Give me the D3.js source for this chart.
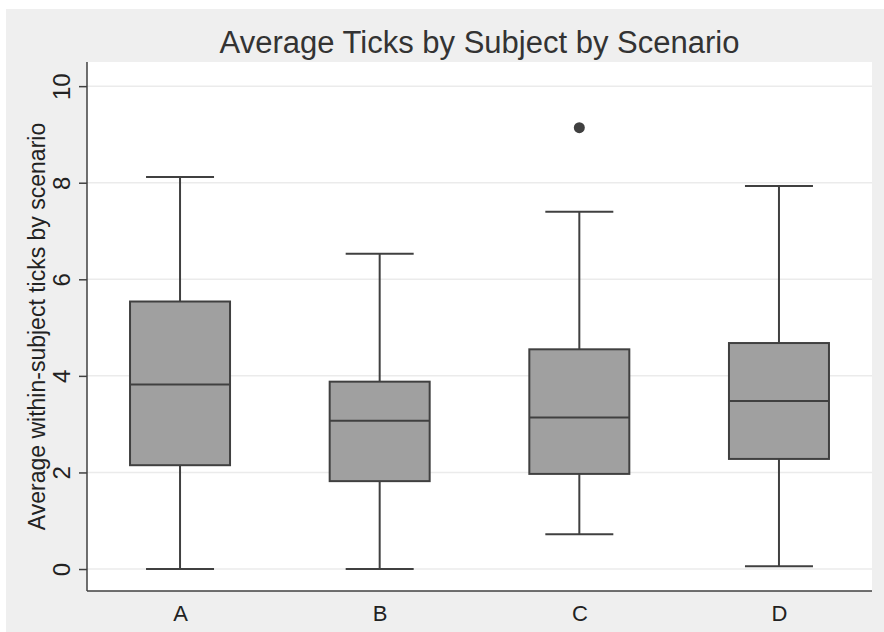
<!DOCTYPE html>
<html><head><meta charset="utf-8">
<script src="https://cdn.jsdelivr.net/npm/d3@7"></script>
<style>body{margin:0;background:#fff;font-family:Arial,"Liberation Sans",sans-serif;}</style>
</head><body><svg id="c" width="884" height="632"></svg>
<script>
const categories = ["A","B","C","D"];
const whiskerLow = [0, 0, 0.72, 0.06];
const q1 = [2.15, 1.82, 1.97, 2.28];
const median = [3.82, 3.07, 3.14, 3.48];
const q3 = [5.54, 3.88, 4.55, 4.68];
const whiskerHigh = [8.12, 6.53, 7.40, 7.93];
const outliers = [[], [], [9.14], []];
const yTicks = [0, 2, 4, 6, 8, 10];
const title = "Average Ticks by Subject by Scenario";
const yLabel = "Average within-subject ticks by scenario";

const svg = d3.select("#c");
const W = 884, H = 632;
const m = {left: 87, right: 12, top: 62, bottom: 41};
const pw = W - m.left - m.right, ph = H - m.top - m.bottom;
const FF = "Arial, 'Liberation Sans', sans-serif";

svg.append("rect").attr("x",6).attr("y",9).attr("width",W-6).attr("height",H-9).attr("fill","#efefef");
svg.append("rect").attr("x",m.left).attr("y",m.top).attr("width",pw).attr("height",ph).attr("fill","#fff");

const x = d3.scalePoint().domain(categories).range([m.left, m.left+pw]).padding(0.466);
const y = d3.scaleLinear().domain([-0.455, 10.5]).range([m.top+ph, m.top]);

const g = svg.append("g");
g.selectAll("line.grid").data(yTicks).join("line").attr("class","grid")
  .attr("x1",m.left).attr("x2",m.left+pw).attr("y1",d=>y(d)).attr("y2",d=>y(d))
  .attr("stroke","#ebebeb").attr("stroke-width",1.5);

const data = categories.map((c,i)=>({c, lo:whiskerLow[i], q1:q1[i], med:median[i], q3:q3[i], hi:whiskerHigh[i], out:outliers[i]}));
const bw = 100, cw = 68, col = "#404040";
const b = g.selectAll("g.box").data(data).join("g").attr("class","box");
b.append("line").attr("x1",d=>x(d.c)).attr("x2",d=>x(d.c)).attr("y1",d=>y(d.hi)).attr("y2",d=>y(d.q3)).attr("stroke",col).attr("stroke-width",2);
b.append("line").attr("x1",d=>x(d.c)).attr("x2",d=>x(d.c)).attr("y1",d=>y(d.q1)).attr("y2",d=>y(d.lo)).attr("stroke",col).attr("stroke-width",2);
b.append("line").attr("x1",d=>x(d.c)-cw/2).attr("x2",d=>x(d.c)+cw/2).attr("y1",d=>y(d.hi)).attr("y2",d=>y(d.hi)).attr("stroke",col).attr("stroke-width",2);
b.append("line").attr("x1",d=>x(d.c)-cw/2).attr("x2",d=>x(d.c)+cw/2).attr("y1",d=>y(d.lo)).attr("y2",d=>y(d.lo)).attr("stroke",col).attr("stroke-width",2);
b.append("rect").attr("x",d=>x(d.c)-bw/2).attr("width",bw).attr("y",d=>y(d.q3)).attr("height",d=>y(d.q1)-y(d.q3))
  .attr("fill","#a0a0a0").attr("stroke",col).attr("stroke-width",2);
b.append("line").attr("x1",d=>x(d.c)-bw/2).attr("x2",d=>x(d.c)+bw/2).attr("y1",d=>y(d.med)).attr("y2",d=>y(d.med)).attr("stroke",col).attr("stroke-width",2);
b.selectAll("circle").data(d=>d.out.map(v=>({c:d.c,v}))).join("circle")
  .attr("cx",d=>x(d.c)).attr("cy",d=>y(d.v)).attr("r",5.5).attr("fill","#404040");

// axes
const ya = svg.append("g").attr("transform",`translate(${m.left},0)`)
  .call(d3.axisLeft(y).tickValues(yTicks).tickSize(8).tickSizeOuter(0).tickFormat(d3.format("d")));
ya.select(".domain").remove();
ya.append("line").attr("x1",0).attr("x2",0).attr("y1",m.top).attr("y2",m.top+ph).attr("stroke",col).attr("stroke-width",1.5);
ya.selectAll(".tick line").attr("stroke",col).attr("stroke-width",1.5);
ya.selectAll(".tick text").attr("x",null).attr("dy",null)
  .attr("transform",d=>`translate(-17.5,0) rotate(-90)`).attr("text-anchor","middle")
  .attr("font-size",24).attr("font-family",FF).attr("fill","#222");

const xa = svg.append("g").attr("transform",`translate(0,${m.top+ph})`)
  .call(d3.axisBottom(x).tickSize(0).tickSizeOuter(0));
xa.select(".domain").remove();
xa.append("line").attr("x1",m.left).attr("x2",m.left+pw).attr("stroke",col).attr("stroke-width",1.5);
xa.selectAll(".tick text").attr("dy",null).attr("y",30)
  .attr("font-size",22).attr("font-family",FF).attr("fill","#222");

svg.append("text").attr("x",m.left+pw/2).attr("y",53).attr("text-anchor","middle")
  .attr("font-size",31).attr("font-family",FF).attr("fill","#333").text(title);
svg.append("text").attr("transform",`translate(45,${m.top+ph/2}) rotate(-90)`).attr("text-anchor","middle")
  .attr("font-size",23).attr("font-family",FF).attr("fill","#222").text(yLabel);
</script></body></html>
